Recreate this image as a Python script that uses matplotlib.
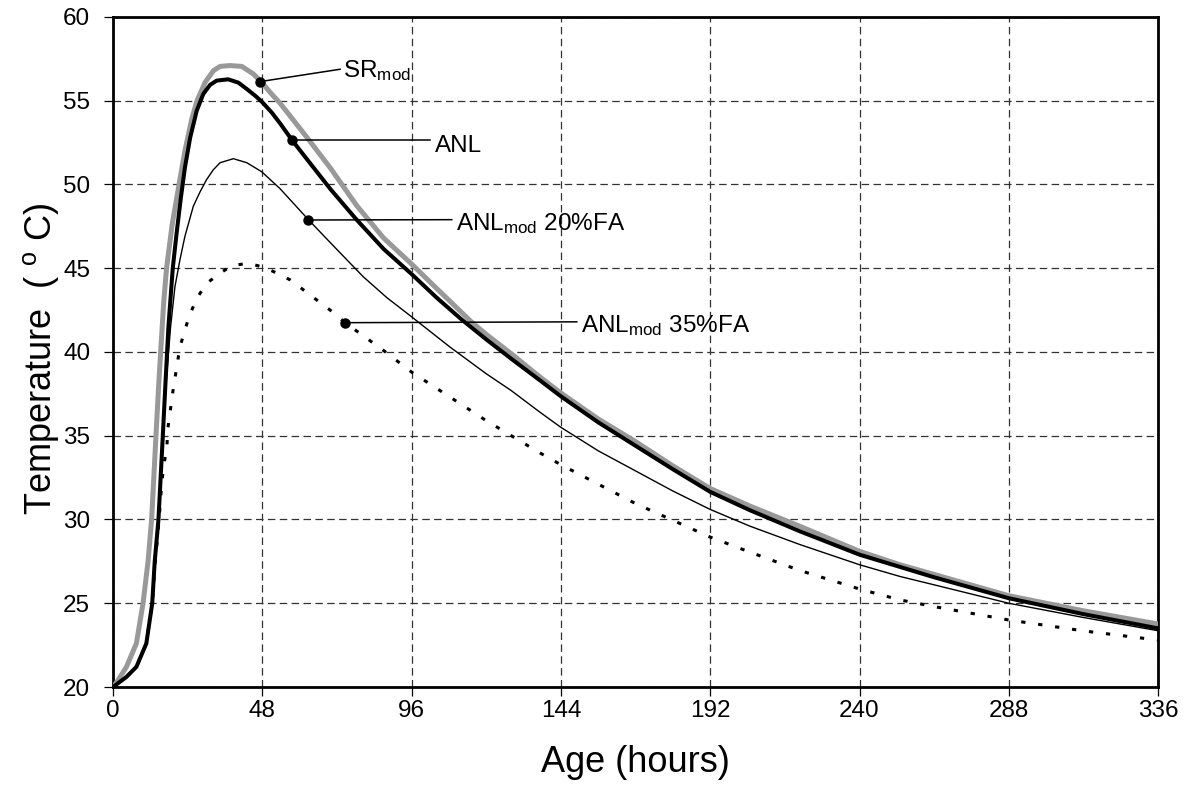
import matplotlib
matplotlib.use('Agg')
import matplotlib.pyplot as plt

plt.rcParams['font.family'] = ['Liberation Sans', 'DejaVu Sans']
plt.rcParams['mathtext.fontset'] = 'custom'
plt.rcParams['mathtext.rm'] = 'Liberation Sans'
plt.rcParams['mathtext.it'] = 'Liberation Sans:italic'

# SR_mod (grey thick)
sr_hours = [0, 1.6, 4.3, 7.5, 9.65, 11.25, 12.4, 13.8, 14.6, 15.5, 16.3, 17.2, 19.0, 21.5,
            23.1, 25.3, 27.0, 29.6, 32.3, 34.4, 37.6, 41.4, 45.1, 47.8, 50.5, 53.7, 59.6,
            62.8, 70, 78.3, 87, 96, 104, 115.2, 120, 128, 137.3, 144, 156, 168, 180, 192,
            204.8, 220.9, 240, 253, 264, 288, 312, 336]
sr_temp = [20.0, 20.4, 21.2, 22.6, 25.0, 27.5, 30.0, 35.0, 37.8, 40.6, 43.0, 45.0, 47.6, 50.3,
           52.0, 53.9, 55.0, 56.1, 56.8, 57.05, 57.1, 57.05, 56.6, 56.1, 55.5, 54.85, 53.46,
           52.7, 50.95, 48.75, 46.8, 45.25, 43.8, 41.8, 41.05, 39.9, 38.5, 37.55, 36.0, 34.65,
           33.2, 31.85, 30.8, 29.59, 28.1, 27.3, 26.72, 25.45, 24.55, 23.76]

# ANL (black thick)
anl_hours = [0, 4.3, 7.5, 10.7, 12.6, 13.4, 14.6, 16.0, 16.9, 17.8, 19.2, 20.5, 21.8, 23.1,
             24.8, 26.9, 29.0, 31.2, 33.3, 37.0, 40.3, 43.0, 45.7, 47.8, 51.0, 53.7, 57.5,
             62.8, 70, 78.3, 87, 96, 104, 112, 120, 128, 137.3, 144, 156, 168, 180, 192,
             204.8, 220.9, 240, 264, 288, 312, 336]
anl_temp = [20.0, 20.6, 21.2, 22.6, 25.0, 27.5, 30.0, 35.0, 38.3, 41.5, 45.0, 47.2, 49.2, 51.0,
            52.8, 54.4, 55.4, 55.95, 56.2, 56.28, 56.08, 55.7, 55.3, 54.95, 54.3, 53.65, 52.66,
            51.4, 49.7, 47.9, 46.15, 44.65, 43.25, 41.95, 40.75, 39.6, 38.3, 37.35, 35.8, 34.4,
            33.0, 31.65, 30.55, 29.29, 27.9, 26.55, 25.3, 24.35, 23.5]

# ANL_mod 20%FA (thin solid)
fa20_hours = [0, 4.3, 7.5, 10.7, 12.6, 13.4, 14.6, 16.0, 17.2, 18.5, 19.9, 21.5, 23.1, 25.8,
              28.0, 30.1, 32.2, 34.4, 38.7, 43.0, 47.8, 53.7, 59.6, 62.8, 70, 80.4, 88, 96,
              108.3, 120, 128, 137.3, 144, 156, 168, 180, 192, 204.8, 220.9, 240, 253, 264,
              288, 312, 336]
fa20_temp = [20.0, 20.6, 21.2, 22.6, 25.0, 27.5, 30.0, 35.0, 38.5, 41.5, 43.9, 45.5, 46.9, 48.7,
             49.57, 50.3, 50.87, 51.3, 51.54, 51.3, 50.76, 49.75, 48.55, 47.9, 46.5, 44.5, 43.25,
             42.1, 40.3, 38.7, 37.7, 36.4, 35.5, 34.1, 32.9, 31.7, 30.6, 29.6, 28.5, 27.3, 26.6,
             26.1, 25.0, 24.15, 23.36]

# ANL_mod 35%FA (dotted)
fa35_hours = [0, 4.3, 7.5, 10.7, 12.6, 13.6, 14.8, 15.6, 16.2, 17.3, 17.6, 19.2, 21.5, 24.4,
              26.9, 30.1, 34.4, 38.1, 43.5, 48.6, 52.8, 57.0, 69.8, 74.6, 86.9, 96, 120,
              137.3, 144, 168, 192, 204.8, 220.9, 240, 253, 264, 288, 312, 336]
fa35_temp = [20.0, 20.6, 21.2, 22.6, 25.0, 27.5, 30.0, 32.0, 33.1, 34.3, 35.4, 37.6, 40.3, 42.1,
             43.2, 44.1, 44.7, 45.15, 45.3, 45.05, 44.7, 44.3, 42.5, 41.75, 40.1, 38.8, 35.9,
             33.97, 33.27, 30.95, 28.95, 28.05, 26.95, 25.85, 25.2, 24.8, 24.0, 23.35, 22.8]

# callout labels: (point on curve, end of leader line, text position, text)
callouts = [
    ((47.2, 56.14), (73.0, 56.88), (74.0, 56.44), r'SR$_{\mathrm{mod}}$'),
    ((57.5, 52.66), (101.9, 52.66), (103.5, 51.96), 'ANL'),
    ((62.8, 47.88), (108.9, 47.9), (110.3, 47.28), r'ANL$_{\mathrm{mod}}$ 20%FA'),
    ((74.6, 41.75), (149.1, 41.8), (150.4, 41.2), r'ANL$_{\mathrm{mod}}$ 35%FA'),
]

xticks = [0, 48, 96, 144, 192, 240, 288, 336]
yticks = [20, 25, 30, 35, 40, 45, 50, 55, 60]

fig = plt.figure(figsize=(11.85, 8.09), dpi=100)
ax = fig.add_axes([0.0954, 0.1508, 0.8819, 0.8282])

ax.plot(fa35_hours, fa35_temp, color='black', lw=2.2, linestyle=(0, (1.4, 4.2)), zorder=3)
ax.plot(fa20_hours, fa20_temp, color='black', lw=1.0, zorder=3)
ax.plot(sr_hours, sr_temp, color='#999999', lw=3.6, zorder=3)
ax.plot(anl_hours, anl_temp, color='black', lw=2.9, zorder=4)

for pt, end, tpos, label in callouts:
    ax.plot([pt[0], end[0]], [pt[1], end[1]], color='black', lw=1.1, zorder=5)
    ax.plot(pt[0], pt[1], 'o', color='black', ms=6.5, zorder=6)
    ax.text(tpos[0], tpos[1], label, fontsize=17.5, ha='left', va='baseline', zorder=6)

ax.set_xlim(0, 336)
ax.set_ylim(20, 60)
ax.set_xticks(xticks)
ax.set_yticks(yticks)
ax.grid(True, color='#333333', lw=0.9, linestyle=(0, (6, 3.5)))
ax.set_axisbelow(True)

for s in ax.spines.values():
    s.set_linewidth(2.0)
    s.set_color('black')

ax.tick_params(axis='both', direction='out', length=6.5, width=0.9, labelsize=17.5)
ax.tick_params(axis='x', pad=3)
ax.tick_params(axis='y', pad=10)

ax.set_xlabel('Age (hours)', fontsize=26)
ax.set_ylabel(r'Temperature  ( $^{\mathrm{o}}$ C)', fontsize=26)
ax.xaxis.set_label_coords(0.5, -0.087)
ax.yaxis.set_label_coords(-0.05, 0.49)

fig.savefig('out.png', dpi=100)
